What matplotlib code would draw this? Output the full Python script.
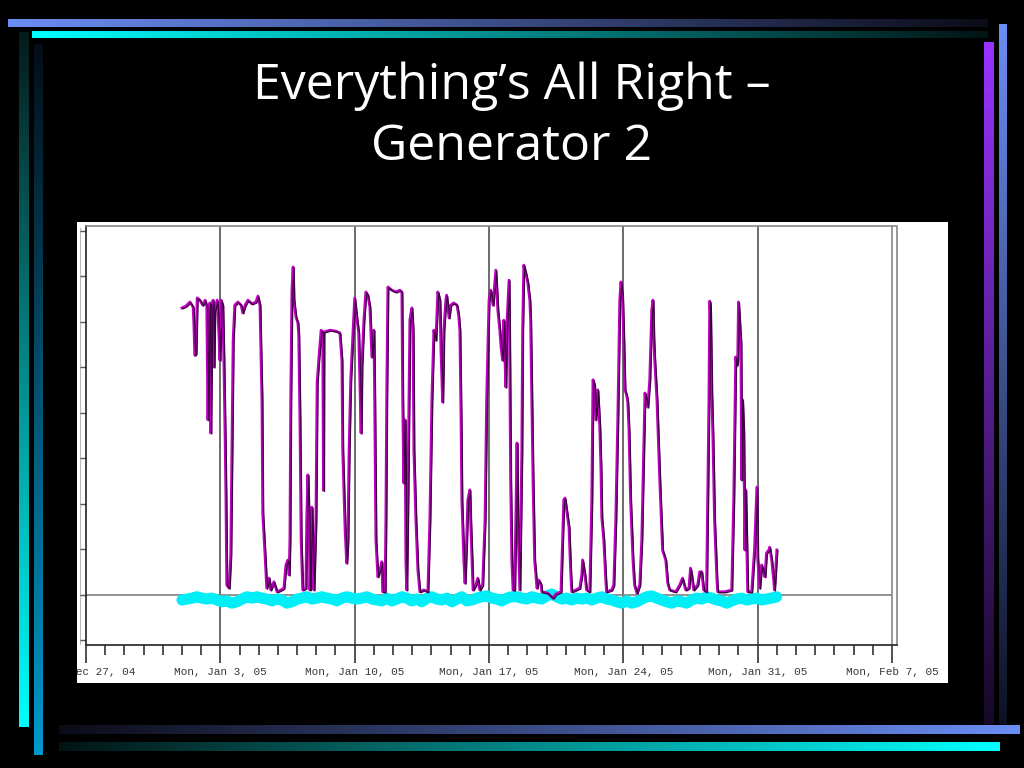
import numpy as np
import matplotlib
matplotlib.use('Agg')
import matplotlib.pyplot as plt
from matplotlib.patches import Rectangle
from matplotlib.colors import to_rgb
import matplotlib.transforms as mtransforms

# ---------------- data ----------------
title_lines = ["Everything\u2019s All Right \u2013", "Generator 2"]
tick_labels = ["Mon, Dec 27, 04", "Mon, Jan 3, 05", "Mon, Jan 10, 05", "Mon, Jan 17, 05",
               "Mon, Jan 24, 05", "Mon, Jan 31, 05", "Mon, Feb 7, 05"]
start_day = 5  # data starts Jan 1 (days after Mon, Dec 27)

# generator output (hours since Jan 1 00:00, value)
purple_h = [0,5,10,14,15,16,17.5,19,22.5,26,29,31,32.5,34,35,36,37.5,39,40,41,44,46,47.5,49,51,52.5,54,55,56,59,
            61,62.5,64,66,70,74,76,79,82.5,87.5,92.5,95,97.5,100,101,104,106,109,111,115,119,124,127.5,130,132.5,134,135,136,137.5,139,
            140,142.5,145,146,147.5,149,151,155,156,157.5,159,160,161,162.5,164,165,167.5,169,171,174,176,177,177.5,185,192.5,197.5,200,201,204,206,
            207.5,209,211,214,216,219,221,224,225,227.5,230,232.5,235,237.5,240,241,242.5,245,247.5,250,251,254,255,256,257.5,262.5,267.5,272.5,275,276,
            277.5,279,280,281,282.5,285,287.5,289,290,292.5,295,297.5,302.5,307.5,310,312.5,315,317.5,320,322.5,324,326,327.5,330,331,334,336,340,344,346,
            347.5,349,350,352.5,354,356,357.5,360,361,364,367.5,370,372.5,376,379,381,384,386,389,391,392.5,395,397.5,399,401,402.5,405,406,409,410,
            411,412.5,414,416,417.5,419,420,422.5,425,426,427.5,430,432.5,435,436,437.5,439,441,444,446,449,450,457.5,464,467.5,474,476,477.5,479,481,
            484,486,487.5,492.5,497.5,500,501,504,506,510,512.5,514,516,517.5,520,522.5,524,525,527.5,530,531,537.5,540,542.5,545,547.5,549,551,552.5,
            554,556,557.5,559,561,564,566,569,572.5,575,577.5,579,581,582.5,585,587.5,589,590,591,594,597.5,601,605,607.5,610,617.5,622.5,626,630,
            634,636,637.5,640,645,647.5,650,652.5,656,657.5,659,660,661,662.5,664,666,669,670,679,687.5,690,692.5,694,695,696,699,700,701,
            702.5,704,705,707.5,712.5,716,719,720,722.5,725,727.5,729,731,734,735,737.5,740,741,744]
purple_v = [63.1,63.5,64.4,63.3,58.9,52.7,53,65.3,64.8,63.7,64.8,63.5,38.5,62.6,64.2,35.6,63.7,64.8,50.1,62.6,64.8,58.2,51.6,64.8,63.7,50.5,34.1,20.9,2.2,1.5,
            8.8,31.9,56,63.7,64.4,63.7,62,63.7,64.8,64,64.4,65.7,63.7,42.9,18,8.4,1.5,3.7,1.1,2.9,0.7,1.1,1.5,6.6,7.7,4.4,12.1,42.9,67,72.1,
            64.8,61.1,59.8,57.1,38.5,12.1,1.1,1.5,16.5,26.4,16.5,1.1,7.7,19.3,7.7,1.1,16.5,46.6,51.6,58.2,57.8,23,57.8,58.2,58,57.6,51.6,31.9,14.3,7,
            12.1,31.9,47.3,58.2,65.3,60.4,57.6,35.6,50.5,60.4,66.6,65.9,63.3,52.3,58.2,42.9,12.1,4,5.5,7.3,0.7,0.7,16.5,42.9,67.7,67,66.6,67,66.6,42.9,
            24.6,38.5,7.7,1.1,20.9,60.4,63.1,58.2,31.9,16.5,5.5,0.7,1.1,0.7,16.5,42.9,58.2,56,66.6,64.8,53.2,42.4,58.2,64.8,65.9,60.9,63.7,64.2,63.7,61.5,
            58.2,38.5,20.9,7.7,2.6,12.1,20.9,23.1,16.5,1.1,2.2,3.7,1.1,2.2,16.5,42.9,64.8,67,63.7,68.1,71.4,62.6,58.2,54.5,51.6,60.4,45.7,58.2,69.2,49.5,
            25.3,7.7,1.1,1.1,16.5,33.4,16.5,1.1,31.9,58.2,72.5,70.8,68.6,64.8,60.4,42.9,25.3,7.7,1.5,3.3,2.4,0.7,0.4,-0.7,0.2,0.7,12.1,20.9,21.3,18.7,
            14.9,5.5,0.7,1.1,1.5,4.4,7.7,4.4,1.1,0.7,20.9,47.3,46.2,38.5,45.1,36.9,27.5,17.1,12.1,3.3,0.7,1.1,2.2,16.5,38.5,64.8,68.8,65.5,56,
            45.1,44,42.4,36.3,20.9,7.7,2.2,0.4,2.2,12.1,31.9,44.4,42.9,41.3,47.3,62.6,64.8,56.7,52.3,42.9,25.3,9.9,7.7,2.6,1.1,0.7,2.2,3.7,1.1,
            1.5,5.9,4.4,1.1,2.2,5.1,5.1,1.1,0.7,20.9,42.9,64.6,62.2,44.4,34.7,16.5,3.3,0.7,0.7,1.1,20.9,52.3,50.5,51.6,64.4,55.4,25.3,42.9,35.8,
            9.9,23.1,0.7,0.7,9.9,23.7,8.1,1.5,6.6,5.1,4,9.2,9.9,10.5,7.7,3.3,1.1,9.9]

# second series near zero, sampled every 6.25 h from Jan 1 00:00
cyan_step_h = 6.25
cyan_v = [-1.1,-0.9,-0.7,-0.4,-0.7,-0.9,-0.7,-1.1,-1.5,-1.3,
          -1.8,-1.5,-0.9,-0.4,-0.7,-0.4,-0.7,-0.9,-1.3,-0.9,
          -1.1,-1.8,-1.5,-0.9,-0.7,-0.4,-0.9,-0.7,-0.4,-0.7,
          -0.9,-1.3,-0.7,-0.4,-0.7,-0.9,-0.7,-0.4,-0.9,-1.1,
          -1.3,-0.7,-1.3,-0.9,-0.4,-0.7,-1.3,-0.9,-1.5,-0.7,
          -0.4,-0.9,-1.1,-0.7,-1.5,-0.9,-0.4,-1.3,-1.1,-0.7,
          -0.4,-0.2,-0.7,-0.9,-1.3,-0.7,-0.4,-0.4,-0.7,-0.9,
          -0.4,-0.7,-0.9,-0.2,0.2,-0.4,-0.9,-0.7,-1.1,-0.7,
          -0.9,-0.7,-1.1,-0.7,-0.4,-0.9,-1.1,-1.5,-1.8,-1.3,
          -1.8,-1.5,-0.9,-0.4,-0.2,-0.7,-1.1,-1.5,-1.8,-1.3,
          -1.5,-1.8,-1.1,-0.7,-0.9,-0.4,-0.7,-1.1,-1.3,-1.8,
          -1.3,-0.9,-0.7,-1.1,-0.9,-0.7,-1.1,-0.9,-0.7,-0.4]

# ---------------- figure ----------------
W, H = 1024, 768
fig = plt.figure(figsize=(W / 100, H / 100), dpi=100, facecolor='black')
bg = fig.add_axes([0, 0, 1, 1])
bg.set_facecolor('black')
bg.axis('off')


def grad(x0, x1, y0, y1, c0, c1, horizontal=True):
    t = np.linspace(0, 1, 256)
    a = np.array(to_rgb(c0)); b = np.array(to_rgb(c1))
    cols = a[None, :] * (1 - t[:, None]) + b[None, :] * t[:, None]
    img = cols[None, :, :] if horizontal else cols[:, None, :]
    bg.imshow(img, extent=(x0, x1, y1, y0), aspect='auto', interpolation='bilinear', zorder=1)


# decorative slide bars
grad(8, 988, 19, 27, '#6B8EF5', '#0c0c18')
grad(32, 988, 31, 38, '#00FFFF', '#031414')
grad(19, 29, 32, 727, '#061a1a', '#00FFFF', horizontal=False)
grad(34, 43, 44, 755, '#040e18', '#0099CC', horizontal=False)
grad(984, 994, 42, 724, '#9933FF', '#160826', horizontal=False)
grad(999, 1007, 24, 724, '#6B8EF5', '#0c1222', horizontal=False)
grad(59, 1020, 725, 734, '#0c0c18', '#6B8EF5')
grad(59, 1000, 742, 751, '#031414', '#00FFFF')

bg.add_patch(Rectangle((77, 222), 871, 461, fc='white', ec='none', zorder=2))
bg.plot([892, 897, 897], [226, 226, 645], color='#888888', lw=1.2, zorder=3)
bg.plot([892, 897], [645, 645], color='#222222', lw=1.2, zorder=3)
bg.plot([80, 80], [228, 644], color='#bbbbbb', lw=0.8, zorder=3)
bg.set_xlim(0, W)
bg.set_ylim(H, 0)

for i, line in enumerate(title_lines):
    fig.text(0.5, 1 - (86 + 61 * i) / H, line, ha='center', va='center', color='white',
             fontsize=36, family='Open Sans')

# ---------------- chart ----------------
ax = fig.add_axes([86 / W, (H - 645) / H, 806 / W, 419 / H])
ax.set_facecolor('white')
ax.set_xlim(0, 42)
ax.set_ylim(-11.0, 81.1)

for s in ['left', 'bottom']:
    ax.spines[s].set_color('#222222'); ax.spines[s].set_linewidth(1.2)
for s in ['top', 'right']:
    ax.spines[s].set_color('#888888'); ax.spines[s].set_linewidth(1.2)

ax.set_xticks(range(0, 43, 7))
ax.set_xticks(range(0, 43), minor=True)
ax.set_xticklabels(tick_labels, family='Liberation Mono', fontsize=8, color='#3a3a3a')
ax.tick_params(axis='x', which='major', direction='out', length=13, width=1.1, color='#222222', pad=3)
ax.tick_params(axis='x', which='minor', direction='out', length=7, width=1.1, color='#222222')
ax.set_yticks(range(-10, 81, 10))
ax.set_yticklabels([])
ax.tick_params(axis='y', which='major', direction='out', length=4, width=1, color='#555555')

for d in range(7, 42, 7):
    ax.axvline(d, color='#444444', lw=1.1, zorder=1)
ax.axhline(0, color='#808080', lw=1.2, zorder=1)

cyan_x = start_day + np.arange(len(cyan_v)) * cyan_step_h / 24
ax.plot(cyan_x, cyan_v, color='#00EEF6', lw=8, solid_capstyle='round', solid_joinstyle='round', zorder=2)

px = start_day + np.array(purple_h) / 24
ax.plot(px, purple_v, color='#C000C0', lw=2.0, zorder=3)
off = mtransforms.ScaledTranslation(1 / 100, -1 / 100, fig.dpi_scale_trans)
ax.plot(px, purple_v, color='#3A0040', lw=0.9, zorder=4, transform=ax.transData + off)

# clip the date labels to the white panel (first label is cut at the panel's left edge)
panel_box = mtransforms.Bbox.from_extents(77, H - 683, 948, H - 222)
for lbl in ax.get_xticklabels():
    lbl.set_clip_on(True)
    lbl.set_clip_box(panel_box)

fig.savefig('out.png', dpi=100, facecolor='black')
